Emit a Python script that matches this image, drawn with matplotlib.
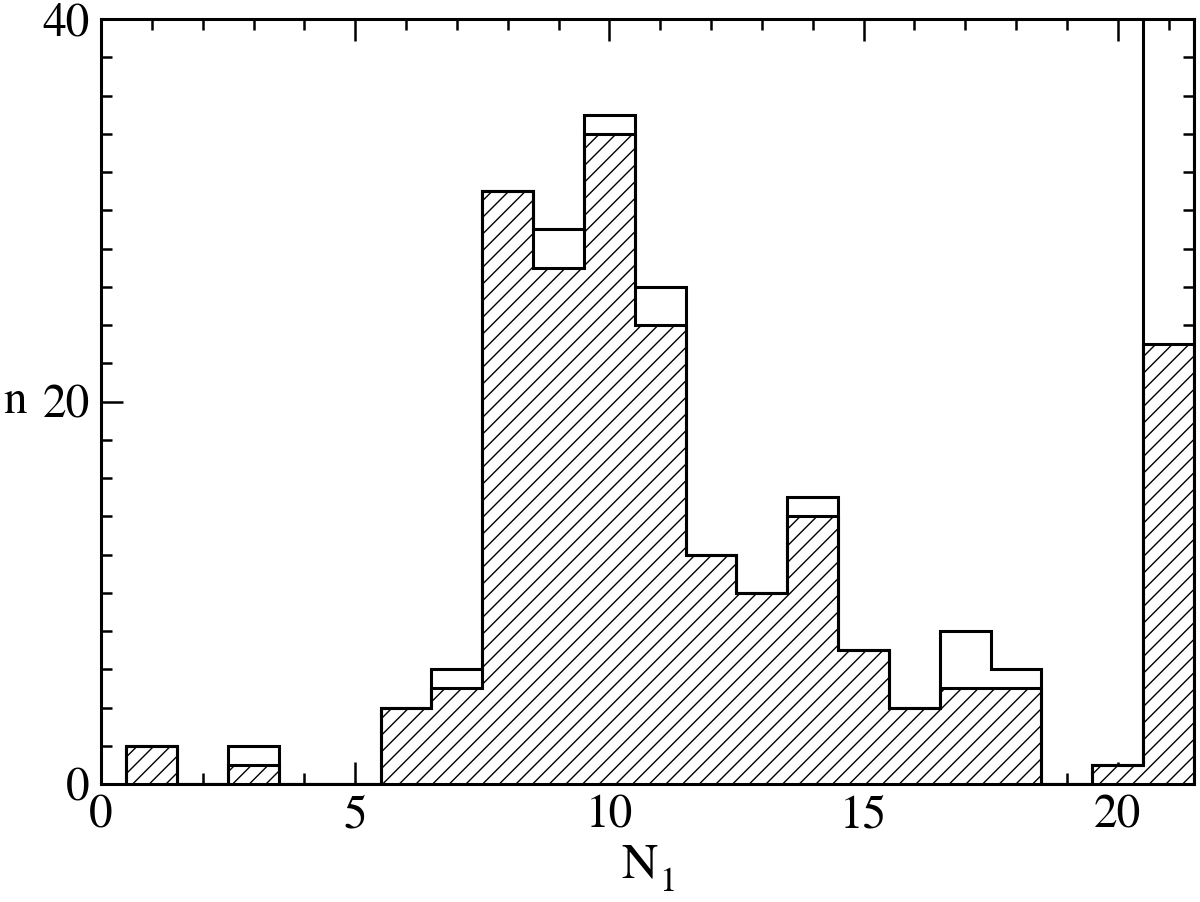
import matplotlib
matplotlib.use("Agg")
import matplotlib.pyplot as plt
import numpy as np
from matplotlib.ticker import MultipleLocator

# Data (bin centres 1..21, width 1)
bin_edges = [0.5, 1.5, 2.5, 3.5, 4.5, 5.5, 6.5, 7.5, 8.5, 9.5, 10.5, 11.5,
             12.5, 13.5, 14.5, 15.5, 16.5, 17.5, 18.5, 19.5, 20.5, 21.5]
total_counts = [2, 0, 2, 0, 0, 4, 6, 31, 29, 35, 26, 12, 10, 15, 7, 4, 8, 6, 0, 1, 45]
subset_counts = [2, 0, 1, 0, 0, 4, 5, 31, 27, 34, 24, 12, 10, 14, 7, 4, 5, 5, 0, 1, 23]
x_ticks = [0, 5, 10, 15, 20]
y_ticks = [0, 20, 40]

plt.rcParams['font.family'] = ['STIXGeneral', 'DejaVu Serif']
plt.rcParams['mathtext.fontset'] = 'stix'
plt.rcParams['hatch.linewidth'] = 1.0

fig = plt.figure(figsize=(12, 9.02), dpi=100)
ax = fig.add_axes([0.0842, 0.1308, 0.9108, 0.8481])

ax.stairs(subset_counts, bin_edges, baseline=0, fill=True, facecolor='white',
          edgecolor='black', hatch='//', linewidth=2.2, zorder=2)
ax.stairs(total_counts, bin_edges, baseline=0, fill=False,
          edgecolor='black', linewidth=2.2, zorder=3)

ax.set_xlim(0, 21.5)
ax.set_ylim(0, 40)
ax.set_xticks(x_ticks)
ax.set_yticks(y_ticks)
ax.xaxis.set_minor_locator(MultipleLocator(1))
ax.yaxis.set_minor_locator(MultipleLocator(2))
ax.tick_params(which='both', direction='in', top=True, right=True,
               labelsize=34, width=1.8)
ax.tick_params(which='major', length=15.5, pad=8)
ax.tick_params(which='minor', length=8)
for s in ax.spines.values():
    s.set_linewidth(2.2)

# x label "N" with a lowered subscript "1"
ax.text(0.493, -0.1216, 'N', transform=ax.transAxes, fontsize=36,
        ha='center', va='baseline')
ax.text(0.511, -0.140, '1', transform=ax.transAxes, fontsize=25,
        ha='left', va='baseline')
ax.set_ylabel('n', fontsize=34, rotation=0, va='center', ha='center')
ax.yaxis.set_label_coords(-0.079, 0.5)

fig.savefig('out.png', dpi=100)
